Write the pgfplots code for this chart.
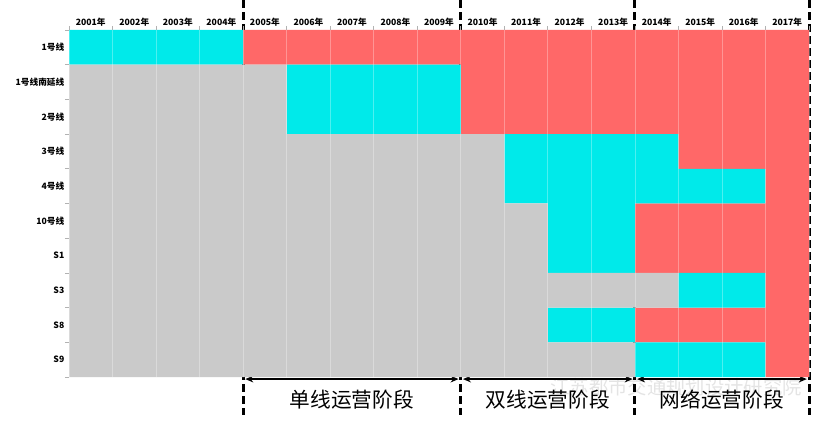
\documentclass[border=0pt]{standalone}
\usepackage{pgfplots}
\pgfplotsset{compat=1.18}
\usetikzlibrary{arrows.meta}
\usepackage{fontspec}
\setmainfont{Noto Sans CJK SC}
\definecolor{cgray}{RGB}{202,202,202}
\definecolor{ccyan}{RGB}{0,234,234}
\definecolor{cred}{RGB}{255,104,104}
\tikzset{stagedash/.style={black, line width=2.25pt, dash pattern=on 6pt off 3pt},
  stagearrow/.style={line width=1.5pt, {Stealth[length=6pt,width=5pt]}-{Stealth[length=6pt,width=5pt]}}}
\begin{document}
\begin{tikzpicture}
\useasboundingbox (0,0) rectangle (624pt,318pt);
\begin{axis}[
  at={(51.75pt,35.25pt)}, anchor=south west,
  scale only axis, width=555pt, height=260.25pt,
  xbar stacked, bar width=1,
  xmin=0, xmax=17, ymin=-0.5, ymax=9.5, y dir=reverse,
  axis line style={draw=none}, axis on top, clip=false,
  xtick={0.5,1.5,...,16.5},
  xticklabels={2001年,2002年,2003年,2004年,2005年,2006年,2007年,2008年,2009年,2010年,2011年,2012年,2013年,2014年,2015年,2016年,2017年},
  xticklabel pos=upper, xtick pos=upper,
  minor xtick={0,1,...,17},
  ytick={0,1,...,9},
  yticklabels={1号线,1号线南延线,2号线,3号线,4号线,10号线,S1,S3,S8,S9},
  ytick pos=left,
  minor ytick={-0.5,0.5,...,9.5},
  major tick length=0pt, minor tick length=3pt, tick align=outside,
  minor tick style={gray!60, line width=0.5pt},
  xminorgrids=true,
  minor grid style={white, opacity=0.3, line width=0.5pt},
  tick label style={font=\bfseries\fontsize{6.5}{7}\selectfont},
  xticklabel style={yshift=-1pt},
]
\addplot[fill=cgray, draw=none] coordinates {(0,0) (5,1) (5,2) (10,3) (10,4) (11,5) (11,6) (14,7) (11,8) (13,9)};
\addplot[fill=ccyan, draw=none] coordinates {(4,0) (4,1) (4,2) (4,3) (6,4) (2,5) (2,6) (2,7) (2,8) (3,9)};
\addplot[fill=cred, draw=none] coordinates {(13,0) (8,1) (8,2) (3,3) (1,4) (4,5) (4,6) (1,7) (4,8) (1,9)};

\draw[stagedash] (axis cs:4,-1.36) -- (axis cs:4,10.6);
\draw[stagedash] (axis cs:9,-1.36) -- (axis cs:9,10.6);
\draw[stagedash] (axis cs:13,-1.36) -- (axis cs:13,10.6);
\draw[stagedash] (axis cs:17,-1.36) -- (axis cs:17,10.6);
\draw[stagearrow] (axis cs:4.05,9.56) -- (axis cs:8.95,9.56);
\draw[stagearrow] (axis cs:9.05,9.56) -- (axis cs:12.95,9.56);
\draw[stagearrow] (axis cs:13.05,9.56) -- (axis cs:16.95,9.56);
\node[font=\fontsize{15.5}{16}\selectfont, inner sep=0pt] at (axis cs:6.5,10.16) {单线运营阶段};
\node[font=\fontsize{15.5}{16}\selectfont, inner sep=0pt] at (axis cs:11,10.16) {双线运营阶段};
\node[font=\fontsize{15.5}{16}\selectfont, inner sep=0pt] at (axis cs:15,10.16) {网络运营阶段};
\node[font=\fontsize{14.5}{15}\selectfont, text=white!75!gray, opacity=0.85, inner sep=0pt] at (axis cs:13.95,9.79) {江苏都市交通规划设计研究院};
\end{axis}
\end{tikzpicture}
\end{document}
